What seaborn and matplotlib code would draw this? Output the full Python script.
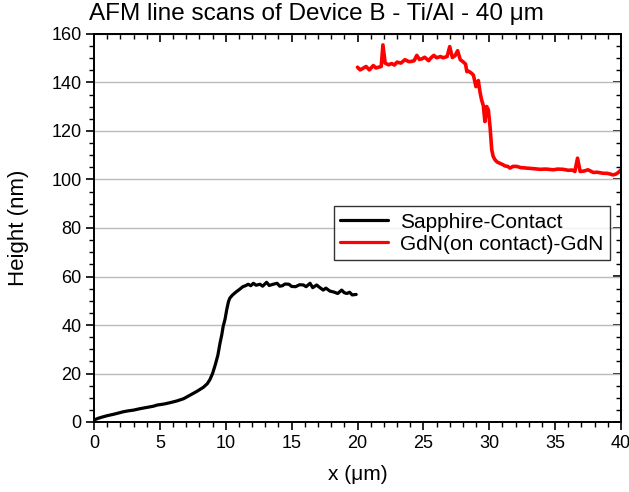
import matplotlib
matplotlib.use("Agg")
import matplotlib.pyplot as plt
import seaborn as sns
import pandas as pd
from matplotlib.ticker import MultipleLocator

sapphire_x = [0, 0.3, 0.6, 1.0, 1.5, 2.0, 2.2, 2.6, 3.0, 3.5, 4.0, 4.5, 4.8, 5.3, 5.8, 6.3,
              6.8, 7.3, 7.8, 8.3, 8.6, 8.8, 9.0, 9.2, 9.4, 9.56, 9.7, 9.8, 9.95, 10.07, 10.2,
              10.3, 10.5, 10.8, 11.0, 11.3, 11.5, 11.7, 11.9, 12.1, 12.3, 12.6, 12.8, 13.1,
              13.3, 13.6, 13.9, 14.1, 14.3, 14.5, 14.8, 15.0, 15.3, 15.6, 15.9, 16.1, 16.4,
              16.6, 16.9, 17.1, 17.4, 17.6, 17.9, 18.2, 18.5, 18.8, 19.0, 19.2, 19.4, 19.6, 19.9]
sapphire_y = [0.8, 1.5, 2.0, 2.6, 3.2, 3.9, 4.2, 4.6, 4.9, 5.5, 6.0, 6.5, 7.0, 7.4, 8.0, 8.7,
              9.6, 11.1, 12.6, 14.3, 15.8, 17.5, 20.0, 23.5, 27.5, 32.4, 36.0, 39.3, 42.5, 46.2,
              49.5, 51.0, 52.3, 53.7, 54.5, 55.8, 56.2, 56.8, 56.2, 57.2, 56.4, 56.8, 56.0, 57.6,
              56.3, 56.8, 57.2, 56.0, 56.2, 56.9, 56.8, 55.9, 55.8, 56.6, 56.5, 55.8, 57.2, 55.4,
              56.5, 55.6, 54.4, 55.2, 54.0, 53.6, 53.0, 54.4, 53.3, 53.0, 53.5, 52.4, 52.6]

gdn_x = [20.0, 20.2, 20.4, 20.65, 20.9, 21.2, 21.4, 21.6, 21.8, 21.93, 22.1, 22.35, 22.6, 22.8,
         23.0, 23.3, 23.6, 23.9, 24.1, 24.3, 24.5, 24.7, 24.9, 25.1, 25.4, 25.6, 25.8, 26.0,
         26.3, 26.5, 26.8, 27.0, 27.2, 27.4, 27.6, 27.8, 28.0, 28.2, 28.3, 28.45, 28.66, 28.8,
         28.99, 29.17, 29.3, 29.42, 29.55, 29.67, 29.8, 29.93, 30.06, 30.19, 30.3, 30.44, 30.6,
         30.8, 31.0, 31.2, 31.4, 31.58, 31.8, 32.08, 32.4, 32.84, 33.3, 33.85, 34.3, 34.86,
         35.2, 35.6, 36.0, 36.3, 36.5, 36.7, 36.9, 37.2, 37.5, 37.9, 38.2, 38.6, 39.0, 39.4,
         39.6, 39.8, 40.0]
gdn_y = [146.3, 145.2, 145.8, 146.6, 145.2, 147.0, 146.0, 146.3, 146.6, 155.5, 148.0, 147.3,
         147.8, 147.2, 148.4, 148.0, 149.4, 148.6, 148.7, 149.0, 151.2, 149.5, 149.8, 150.4,
         149.0, 150.3, 151.2, 150.2, 150.7, 150.2, 150.7, 154.8, 150.3, 151.0, 153.1, 149.4,
         148.6, 147.6, 144.5, 144.6, 143.8, 143.0, 138.3, 140.8, 136.0, 132.8, 130.5, 123.9,
         130.1, 128.7, 121.8, 112.2, 109.5, 108.1, 107.2, 106.7, 106.2, 105.6, 105.4, 104.7,
         105.4, 105.4, 104.9, 104.7, 104.5, 104.2, 104.3, 104.0, 104.3, 104.2, 103.8, 103.9,
         103.3, 108.8, 103.3, 103.5, 104.0, 102.9, 103.0, 102.6, 102.5, 101.9, 102.2, 102.9, 104.0]

labels = ["Sapphire-Contact", "GdN(on contact)-GdN"]
colors = ["black", "red"]

df = pd.concat([
    pd.DataFrame({"x": sapphire_x, "y": sapphire_y, "scan": labels[0]}),
    pd.DataFrame({"x": gdn_x, "y": gdn_y, "scan": labels[1]}),
], ignore_index=True)

sns.set_style("white")
plt.rcParams["font.family"] = ["Liberation Sans", "DejaVu Sans"]
plt.rcParams["text.color"] = "black"
plt.rcParams["axes.labelcolor"] = "black"
plt.rcParams["xtick.color"] = "black"
plt.rcParams["ytick.color"] = "black"

fig = plt.figure(figsize=(6.29, 4.92), dpi=100)
ax = fig.add_axes([94/629, 70/492, 527/629, 388/492])

sns.lineplot(data=df, x="x", y="y", hue="scan", palette=dict(zip(labels, colors)),
             sort=False, estimator=None, ax=ax, linewidth=2.3)
for line in ax.get_lines():
    if line.get_color() in ("red", (1.0, 0.0, 0.0, 1)):
        line.set_linewidth(2.6)

ax.set_xlim(0, 40)
ax.set_ylim(0, 160)
ax.xaxis.set_major_locator(MultipleLocator(5))
ax.xaxis.set_minor_locator(MultipleLocator(1))
ax.yaxis.set_major_locator(MultipleLocator(20))
ax.yaxis.set_minor_locator(MultipleLocator(5))
ax.grid(axis="y", which="major", color="#bbbbbb", linewidth=1.0)
ax.grid(axis="x", visible=False)
ax.set_axisbelow(True)

for s in ax.spines.values():
    s.set_color("black")
    s.set_linewidth(1.4)

ax.tick_params(axis="both", which="both", bottom=True, left=True, top=False, right=False,
               direction="out", color="black", labelcolor="black", labelsize=13, pad=3)
ax.tick_params(which="major", length=6, width=1.2)
ax.tick_params(which="minor", length=3.5, width=1.0)
ax2 = ax.secondary_xaxis("top")
ax2.xaxis.set_major_locator(MultipleLocator(5))
ax2.xaxis.set_minor_locator(MultipleLocator(1))
ax2.tick_params(which="both", direction="in", labeltop=False, color="black")
ax2.tick_params(which="major", length=6, width=1.2)
ax2.tick_params(which="minor", length=3.5, width=1.0)
ax2.spines["top"].set_linewidth(1.4)
ax3 = ax.secondary_yaxis("right")
ax3.yaxis.set_major_locator(MultipleLocator(20))
ax3.yaxis.set_minor_locator(MultipleLocator(5))
ax3.tick_params(which="both", direction="in", labelright=False, color="black")
ax3.tick_params(which="major", length=6, width=1.2)
ax3.tick_params(which="minor", length=3.5, width=1.0)
ax3.spines["right"].set_linewidth(1.4)

ax.set_xlabel("x (μm)", fontsize=15, labelpad=10, color="black")
ax.set_ylabel("Height (nm)", fontsize=16, labelpad=16, color="black")
fig.suptitle("AFM line scans of Device B - Ti/Al - 40 μm", fontsize=17.5, x=0.503, y=0.993,
             color="black")

leg = ax.legend(loc="upper right", bbox_to_anchor=(0.979, 0.556), fontsize=15,
                frameon=True, fancybox=False, edgecolor="black", borderpad=0.3,
                handlelength=2.3, handletextpad=0.6, labelspacing=0.15, borderaxespad=0)
leg.get_frame().set_linewidth(1.0)
for t in leg.get_texts():
    t.set_color("black")
for h in leg.get_lines():
    h.set_linewidth(2.3)

fig.savefig("out.png", dpi=100)
